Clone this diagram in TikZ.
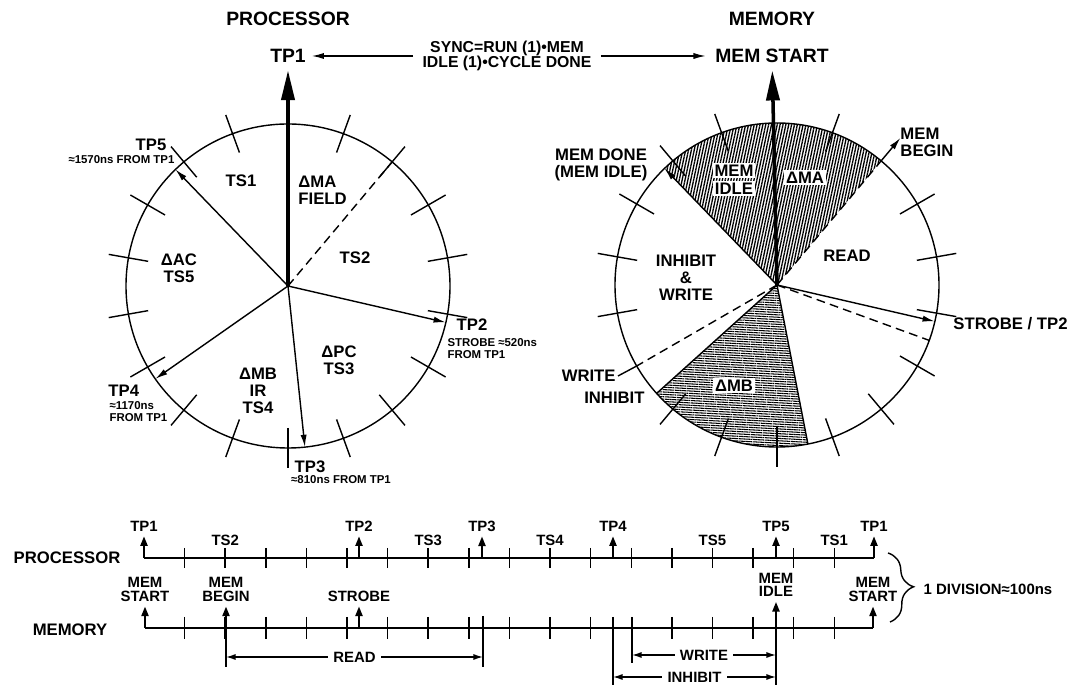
\documentclass[tikz,border=0pt]{standalone}
\usepackage{fontspec}
\setmainfont{Liberation Sans}
\usepackage{tikz}
\usetikzlibrary{arrows.meta,patterns.meta,decorations.pathreplacing}

\begin{document}
\begin{tikzpicture}[x=0.02cm,y=-0.02cm,line width=0.8pt,
    big/.style={font=\bfseries\fontsize{11}{12}\selectfont,inner sep=1pt},
    lbl/.style={font=\bfseries\fontsize{9.5}{9.8}\selectfont,align=center,inner sep=1pt},
    tiny/.style={font=\bfseries\fontsize{6.5}{7}\selectfont,align=left,inner sep=0.5pt},
    tl/.style={font=\bfseries\fontsize{8.5}{7.6}\selectfont,align=center,inner sep=0.5pt},
    hand/.style={-{Latex[length=7pt,width=3.5pt]}},
    bigarr/.style={line width=2pt,-{Triangle[length=17pt,width=7.5pt]}},
    uparr/.style={line width=1.2pt,-{Triangle[length=5.5pt,width=4pt]}},
    dim/.style={{Latex[length=5.5pt,width=3.5pt]}-{Latex[length=5.5pt,width=3.5pt]}},
    dsh/.style={dash pattern=on 5pt off 3pt},
    vhatch/.style={pattern={Lines[angle=78,distance=1.6pt,line width=0.75pt]}},
    hhatch/.style={pattern={Lines[angle=-3,distance=1.35pt,line width=0.6pt]}}]
  \useasboundingbox (0,0) rectangle (1073,685);
  \def\rad{162}
  \coordinate (pc) at (288,286);
  \coordinate (mc) at (777,285);

  % processor wheel
  \node[big] (ptitle) at (288,19) {PROCESSOR};
  \node[big] (tp1) at (288,56) {TP1};
  \draw (pc) circle[radius=\rad];
  \foreach \a in {20,40,...,340}
    \draw[shift={(pc)}] (\a-90:142) -- (\a-90:182);
  \path[shift={(pc)}] (-50:\rad) coordinate (pts2) (13:\rad) coordinate (ptp2)
    (84:\rad) coordinate (ptp3) (145:\rad) coordinate (ptp4) (226:\rad) coordinate (ptp5);
  \draw[bigarr,shorten >=3pt] (pc) -- (tp1);
  \draw[dsh] (pc) -- (pts2);
  \draw[hand] (pc) -- (ptp2);
  \draw[hand] (pc) -- (ptp3);
  \draw[hand] (pc) -- (ptp4);
  \draw[hand] (pc) -- (ptp5);
  \node[lbl] (tp5) at (151,145) {TP5};
  \node[tiny,anchor=east] (tp5t) at (176,160) {≈1570ns FROM TP1};
  \node[lbl] (ts1) at (241,181) {TS1};
  \node[lbl,align=left,anchor=west] (dma) at (296,190) {ΔMA\\FIELD};
  \node[lbl] (ts2) at (355,258) {TS2};
  \node[lbl] (ts5) at (179,268) {ΔAC\\TS5};
  \node[lbl] (tp2) at (472,325) {TP2};
  \node[tiny,anchor=north west] (tp2t) at (446,337) {STROBE ≈520ns\\FROM TP1};
  \node[lbl] (ts3) at (339,360) {ΔPC\\TS3};
  \node[lbl] (ts4) at (258,391) {ΔMB\\IR\\TS4};
  \node[lbl,anchor=west] (tp4) at (106,391) {TP4};
  \node[tiny,anchor=north west] (tp4t) at (108,400) {≈1170ns\\FROM TP1};
  \node[lbl] (tp3) at (310,467) {TP3};
  \node[tiny] (tp3t) at (341,480) {≈810ns FROM TP1};

  % sync between the wheels
  \node[big] (mtitle) at (772,19) {MEMORY};
  \node[big] (mstart) at (772,56) {MEM START};
  \node[lbl,font=\bfseries\fontsize{9}{9}\selectfont] (sync) at (507,56) {SYNC=RUN (1)•MEM\\IDLE (1)•CYCLE DONE};
  \draw[hand,shorten <=4pt,shorten >=2pt] (sync.west) -- (tp1.east);
  \draw[hand,shorten <=4pt,shorten >=4pt] (sync.east) -- (mstart.west);

  % memory wheel
  \fill[vhatch] (mc) -- ++(226:\rad) arc[start angle=226,end angle=310,radius=\rad] -- cycle;
  \fill[hhatch] (mc) -- ++(79:\rad) arc[start angle=79,end angle=138,radius=\rad] -- cycle;
  \draw (mc) circle[radius=\rad];
  \foreach \a in {20,60,80,100,120,140,160,180,200,220,260,280,300,320,340}
    \draw[shift={(mc)}] (\a-90:142) -- (\a-90:182);
  \path[shift={(mc)}] (226:\rad) coordinate (mdone) (310:\rad) coordinate (mbeg)
    (310:192) coordinate (mbegtip) (13:\rad) coordinate (mstb) (20:\rad) coordinate (mdash)
    (150:\rad) coordinate (mwr) (138:\rad) coordinate (minh) (79:\rad) coordinate (mmbe);
  \draw[bigarr,shorten >=3pt] (mc) -- (mstart);
  \draw[hand] (mc) -- (mdone);
  \draw[dsh] (mc) -- (mbeg);
  \draw[hand] (mbeg) -- (mbegtip);
  \draw[hand] (mc) -- (mstb);
  \draw[dsh] (mc) -- (mdash);
  \draw (mc) -- (mmbe);
  \draw (mc) -- (minh);
  \draw[dsh] (mc) -- (mwr);
  \node[lbl,anchor=east] (wrl) at (618,376) {WRITE};
  \draw (mwr) -- (wrl.east);
  \node[lbl,anchor=east] (inl) at (647,398) {INHIBIT};
  \node[lbl] (mdl) at (601,165) {MEM DONE\\(MEM IDLE)};
  \node[lbl,fill=white] (midle1) at (734,171) {MEM};
  \node[lbl,fill=white] (midle2) at (734,189) {IDLE};
  \node[lbl,fill=white] (mma) at (805,178) {ΔMA};
  \node[lbl] (mread) at (847,256) {READ};
  \node[lbl] (miw) at (686,278) {INHIBIT\\\&\\WRITE};
  \node[lbl,align=left,anchor=west] (mbl) at (898,142) {MEM\\BEGIN};
  \node[lbl,anchor=west] (mstl) at (951,324) {STROBE / TP2};
  \node[lbl,fill=white] (mmb) at (734,386) {ΔMB};

  % time lines
  \node[lbl] (lproc) at (67,558) {PROCESSOR};
  \node[lbl] (lmem) at (70,630) {MEMORY};
  \draw (144,558) -- (874,558);
  \foreach \k in {1,...,17}
    \draw ({144+40.6*\k},548) -- ({144+40.6*\k},568);
  \foreach \x/\t [count=\i] in {144/TP1,359/TP2,482/TP3,613/TP4,776/TP5,874/TP1} {
    \node[tl] (lp\i) at (\x,526) {\t};
    \coordinate (lpb\i) at (\x,558);
    \draw[uparr,shorten >=2pt] (lpb\i) -- (lp\i);
  }
  \foreach \k/\t in {2/TS2,7/TS3,10/TS4,14/TS5,17/TS1}
    \node[tl] (ls\k) at ({144+40.6*\k},540) {\t};

  \draw (145,628) -- (873,628);
  \foreach \k in {1,...,17}
    \draw ({144+40.6*\k},617) -- ({144+40.6*\k},639);
  \foreach \x/\t/\y [count=\i] in {145/MEM\\START/589.5,226/MEM\\BEGIN/589.5,359/STROBE/596,776/MEM\\IDLE/585,873/MEM\\START/589.5} {
    \node[tl] (lm\i) at (\x,\y) {\t};
    \coordinate (lmb\i) at (\x,628);
    \draw[uparr,shorten >=2pt] (lmb\i) -- (lm\i);
  }
  \draw (226,628) -- (226,667);
  \draw (483,616) -- (483,667);
  \draw (613,617) -- (613,685);
  \draw (632,617) -- (632,663);
  \draw (776,628) -- (776,685);
  \coordinate (rda) at (226,657);
  \coordinate (rdb) at (483,657);
  \coordinate (wra) at (632,655);
  \coordinate (wrb) at (776,655);
  \coordinate (iha) at (613,677);
  \coordinate (ihb) at (776,677);
  \draw[dim] (rda) -- node[tl,fill=white,inner xsep=3pt] (rdl) {READ} (rdb);
  \draw[dim] (wra) -- node[tl,fill=white,inner xsep=3pt] (wrt) {WRITE} (wrb);
  \draw[dim] (iha) -- node[tl,fill=white,inner xsep=3pt] (iht) {INHIBIT} (ihb);

  \draw[decorate,decoration={brace,amplitude=14pt}] (888,553) -- (890,622);
  \node[font=\bfseries\fontsize{8.5}{9}\selectfont,anchor=west,inner sep=0pt] (div) at (923,589) {1 DIVISION≈100ns};
\end{tikzpicture}
\end{document}
